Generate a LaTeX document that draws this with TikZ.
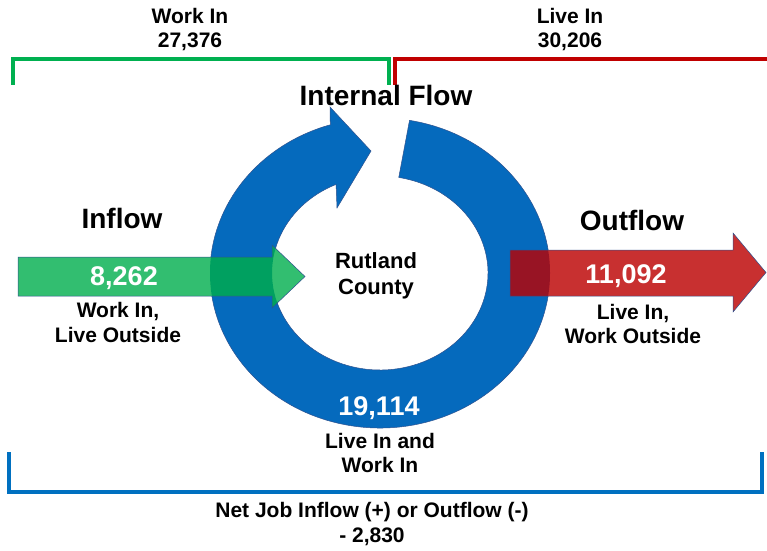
\documentclass[tikz,border=0pt]{standalone}
\usepackage{fontspec}
\setmainfont{Liberation Sans}
\usepackage{xcolor}
\definecolor{ringBlue}{RGB}{5,106,189}
\definecolor{edgeBlue}{RGB}{47,82,143}
\definecolor{inGreen}{RGB}{50,190,112}
\definecolor{inGreenDark}{RGB}{0,160,96}
\definecolor{outRed}{RGB}{200,48,48}
\definecolor{outRedDark}{RGB}{152,20,36}
\definecolor{brGreen}{RGB}{0,176,80}
\definecolor{brRed}{RGB}{192,0,0}
\definecolor{brBlue}{RGB}{0,112,192}
\usetikzlibrary{calc}

\begin{document}
\begin{tikzpicture}[x=1pt, y=1pt,
  edge/.style={draw=edgeBlue, line width=0.5pt},
  bracket/.style={line width=4pt, line join=miter},
  head/.style={font=\fontsize{28}{30}\selectfont\bfseries, inner sep=0pt, anchor=base},
  num/.style={font=\fontsize{27}{30}\selectfont\bfseries, text=white, inner sep=0pt, anchor=base},
  note/.style={font=\fontsize{21}{24}\selectfont\bfseries, align=center, inner sep=0pt}]

  \useasboundingbox (0,0) rectangle (767,550);
  \def\inflowpath{(18,254) -- (272,254) -- (272,242) -- (305,273.5) -- (272,305) -- (272,293) -- (18,293) -- cycle}
  \def\outflowpath{(510,254) -- (733,254) -- (733,238) -- (766,277.5) -- (733,317) -- (733,300) -- (510,300) -- cycle}

  % ── Brackets ──────────────────────────────────────────────────────
  \draw[bracket, brGreen] (13,465) -- (13,491) -- (389,491) -- (389,465);
  \draw[bracket, brRed] (395,465) -- (395,491) -- (767,491);
  \draw[bracket, brBlue] (9,98) -- (9,58) -- (762,58) -- (762,98);

  % ── Internal flow ring ────────────────────────────────────────────
  \coordinate (hub) at (380,277);
  \fill[ringBlue, edge] (hub) ++(80:170 and 155)
    arc[start angle=80, end angle=-253, x radius=170, y radius=155]
    -- (330,443) -- (371,399) -- (337,342)
    -- ($(hub)+(114:108 and 97)$)
    arc[start angle=114, end angle=440, x radius=108, y radius=97] -- cycle;

  % ── Inflow / Outflow arrows ───────────────────────────────────────
  \fill[inGreen] \inflowpath;
  \fill[outRed] \outflowpath;
  \begin{scope}[even odd rule]
    \clip (hub) ellipse [x radius=170, y radius=155]
      (hub) ellipse [x radius=108, y radius=97];
    \fill[inGreenDark] \inflowpath;
    \fill[outRedDark] \outflowpath;
  \end{scope}
  \draw[edge] \inflowpath;
  \draw[edge] \outflowpath;

  % ── Labels ────────────────────────────────────────────────────────
  \node[note] (workin) at (190,520.6) {Work In\\27,376};
  \node[note] (livein) at (570,520.6) {Live In\\30,206};
  \node[head] (internal) at (386,444) {Internal Flow};
  \node[head] (inflow) at (122,322) {Inflow};
  \node[head] (outflow) at (632,320) {Outflow};
  \node[num] (innum) at (124,265) {8,262};
  \node[num] (outnum) at (626,267) {11,092};
  \node[num] (stay) at (379,135) {19,114};
  \node[note, font=\fontsize{22}{26}\selectfont\bfseries] (county) at (376,274) {Rutland\\County};
  \node[note, font=\fontsize{21}{25}\selectfont\bfseries] (inlbl) at (118,228) {Work In,\\Live Outside};
  \node[note] (outlbl) at (633,226) {Live In,\\Work Outside};
  \node[note] (staylbl) at (380,97) {Live In and\\Work In};
  \node[note, font=\fontsize{21}{25}\selectfont\bfseries] (net) at (372,26) {Net Job Inflow (+) or Outflow (-)\\- 2,830};

\end{tikzpicture}
\end{document}
